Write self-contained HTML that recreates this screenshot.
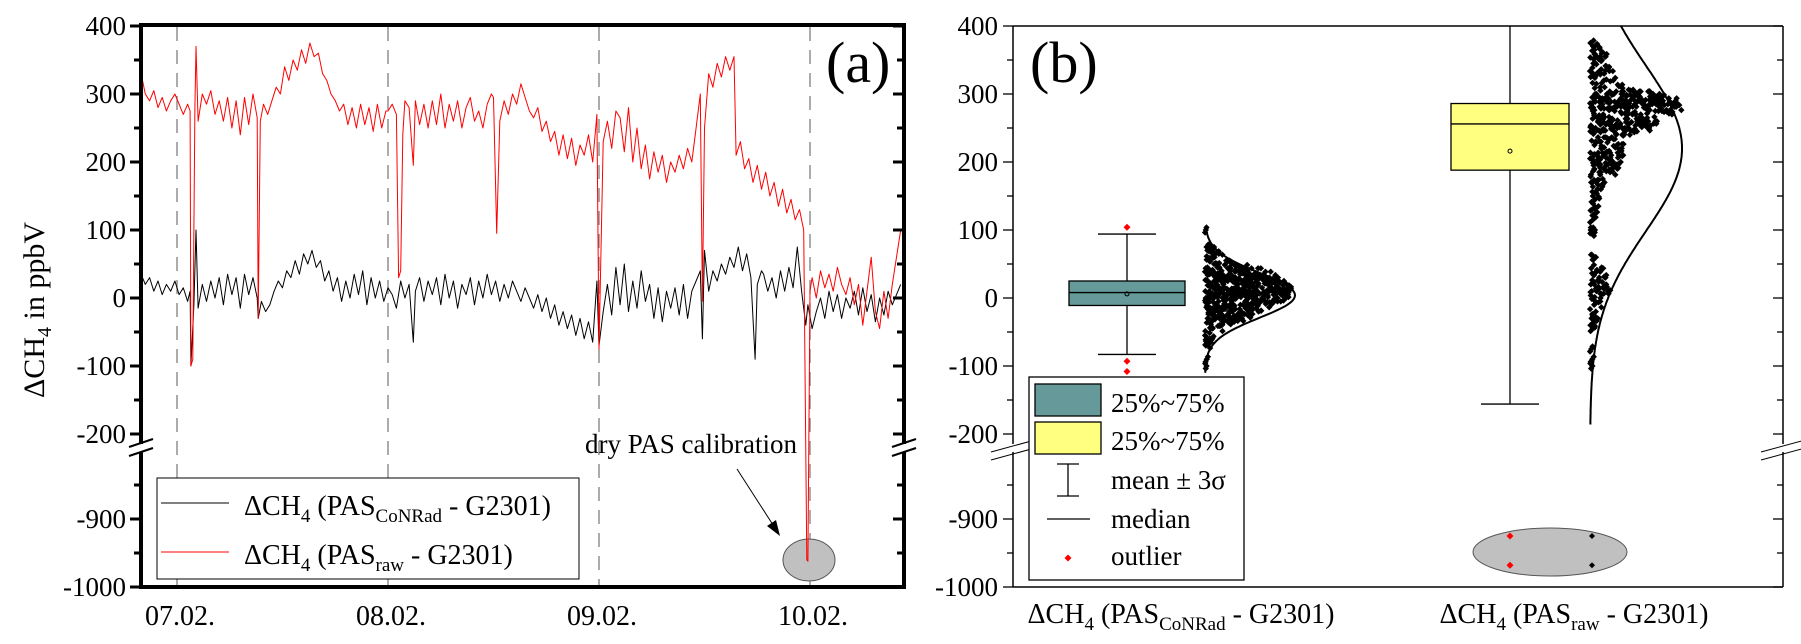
<!DOCTYPE html>
<html><head><meta charset="utf-8"><title>Delta CH4 time series and box plots</title>
<style>
html,body{margin:0;padding:0;background:#fff;}
svg{display:block;font-family:"Liberation Serif","Times New Roman","DejaVu Serif",serif;}
svg text{font-family:"Liberation Serif","Times New Roman","DejaVu Serif",serif;}
</style></head>
<body>
<svg id="chart" width="1801" height="644" viewBox="0 0 1801 644" xmlns="http://www.w3.org/2000/svg" font-family="Liberation Serif, Times New Roman, DejaVu Serif, serif">
<g id="panelA"></g>
<g id="panelB"></g>
</svg>
<script>
// ---------- data (panel a) ----------
const redTimes=[-0.17,-0.15,-0.13,-0.11,-0.09,-0.07,-0.05,-0.03,-0.01,0.01,0.03,0.05,0.062,0.066,0.075,0.085,0.09,0.10,0.12,0.14,0.16,0.18,0.20,0.22,0.24,0.26,0.28,0.30,0.32,0.34,0.36,0.38,0.385,0.395,0.41,0.43,0.45,0.47,0.49,0.51,0.53,0.55,0.57,0.59,0.61,0.63,0.65,0.67,0.69,0.71,0.73,0.75,0.77,0.79,0.81,0.83,0.85,0.87,0.89,0.91,0.93,0.95,0.97,0.99,1.00,1.02,1.04,1.05,1.06,1.07,1.08,1.10,1.12,1.13,1.15,1.17,1.19,1.21,1.23,1.25,1.27,1.29,1.31,1.33,1.35,1.37,1.39,1.41,1.43,1.45,1.47,1.49,1.50,1.515,1.53,1.55,1.57,1.59,1.61,1.63,1.65,1.67,1.69,1.71,1.73,1.75,1.77,1.79,1.81,1.83,1.85,1.87,1.89,1.91,1.93,1.95,1.97,1.99,2.00,2.02,2.04,2.06,2.08,2.10,2.12,2.14,2.16,2.18,2.20,2.22,2.24,2.26,2.28,2.30,2.32,2.34,2.36,2.38,2.40,2.42,2.44,2.46,2.48,2.49,2.50,2.52,2.54,2.56,2.58,2.60,2.62,2.64,2.65,2.67,2.69,2.71,2.73,2.75,2.77,2.79,2.81,2.83,2.85,2.87,2.89,2.91,2.93,2.95,2.97,2.985,2.99,3.00,3.01,3.03,3.05,3.07,3.09,3.11,3.13,3.15,3.17,3.19,3.21,3.23,3.25,3.27,3.29,3.31,3.33,3.35,3.37,3.39,3.41,3.43];
const redValues=[330,300,290,305,280,295,275,290,300,285,270,285,275,-100,-90,280,370,260,300,285,305,270,290,260,295,250,290,240,295,255,300,265,-30,260,285,270,290,310,300,340,320,350,335,365,345,375,355,360,330,320,300,290,275,285,255,280,250,285,255,280,245,285,250,275,275,285,270,30,40,240,290,280,195,290,255,285,250,290,255,300,250,285,260,290,250,280,295,260,275,250,285,300,295,95,260,290,270,300,285,315,295,275,265,280,245,260,230,245,210,240,205,235,195,225,210,240,200,270,-75,230,260,220,275,265,215,280,200,250,190,225,175,215,185,210,170,200,185,210,190,220,200,250,300,-5,250,330,310,345,325,355,335,355,210,230,190,205,170,195,160,185,150,170,135,160,125,145,115,130,100,-960,-962,10,30,0,40,15,35,10,45,20,5,30,-10,20,-40,10,60,-20,-45,10,-30,20,60,100];
const blackTimes=[-0.17,-0.15,-0.13,-0.11,-0.09,-0.07,-0.05,-0.03,-0.01,0.01,0.03,0.05,0.062,0.066,0.08,0.09,0.10,0.12,0.14,0.16,0.18,0.20,0.22,0.24,0.26,0.28,0.30,0.32,0.34,0.36,0.38,0.385,0.40,0.42,0.44,0.46,0.48,0.50,0.52,0.54,0.56,0.58,0.60,0.62,0.64,0.66,0.68,0.70,0.72,0.74,0.76,0.78,0.80,0.82,0.84,0.86,0.88,0.90,0.92,0.94,0.96,0.98,1.00,1.02,1.04,1.06,1.08,1.10,1.12,1.13,1.15,1.17,1.19,1.21,1.23,1.25,1.27,1.29,1.31,1.33,1.35,1.37,1.39,1.41,1.43,1.45,1.47,1.49,1.51,1.53,1.55,1.57,1.59,1.61,1.63,1.65,1.67,1.69,1.71,1.73,1.75,1.77,1.79,1.81,1.83,1.85,1.87,1.89,1.91,1.93,1.95,1.97,1.99,2.00,2.02,2.04,2.06,2.08,2.10,2.12,2.14,2.16,2.18,2.20,2.22,2.24,2.26,2.28,2.30,2.32,2.34,2.36,2.38,2.40,2.42,2.44,2.46,2.48,2.49,2.50,2.52,2.54,2.56,2.58,2.60,2.62,2.64,2.66,2.68,2.70,2.72,2.74,2.75,2.77,2.78,2.80,2.82,2.84,2.86,2.88,2.90,2.92,2.94,2.96,2.98,2.99,3.01,3.03,3.05,3.07,3.09,3.11,3.13,3.15,3.17,3.19,3.21,3.23,3.25,3.27,3.29,3.31,3.33,3.35,3.37,3.39,3.43];
const blackValues=[35,20,30,10,25,5,20,10,25,5,15,-5,10,-100,-10,100,-15,20,-5,25,0,30,-10,35,5,30,-15,35,5,30,0,-30,-5,-20,-10,10,25,15,40,30,55,35,65,50,70,45,55,25,40,10,30,-5,25,0,35,5,40,-10,30,0,25,-5,15,5,-15,25,0,20,-65,10,30,-5,25,5,30,-10,35,0,25,-15,20,5,30,-10,25,0,35,5,25,-5,20,0,25,10,-5,15,0,-15,5,-20,0,-30,-10,-40,-20,-45,-25,-55,-30,-60,-35,-65,25,-70,-20,20,-25,45,-10,50,-20,25,-15,40,-5,20,-30,15,-35,10,-15,15,-25,20,-30,10,25,40,-60,70,10,40,25,50,35,60,45,75,40,65,30,-90,20,40,35,10,30,0,40,10,45,15,75,10,-40,-10,-45,-20,0,-30,10,-20,5,-30,0,-15,10,-25,15,-20,5,-35,0,-25,10,-10,20];
const dayLabels=["07.02.","08.02.","09.02.","10.02."];
const yTicksUpper=[400,300,200,100,0,-100,-200];
const yTicksLower=[-900,-1000];

// ---------- data (panel b) ----------
const boxCats=["conrad","raw"];
const boxQ1=[-11,188];
const boxQ3=[25,286];
const boxMedian=[8,256];
const boxMean=[6,216];
const whiskerLow=[-83,-156];
const whiskerHigh=[94,410];
const outliersConrad=[104,-93,-108];
const curveMean=[4,220];
const curveSd=[33,122];
const lowOutliers=[-925,-968];

const NS="http://www.w3.org/2000/svg";
const FF="Liberation Serif, Times New Roman, DejaVu Serif, serif";
function mk(tag,attrs,parent){const e=document.createElementNS(NS,tag);for(const k in attrs)e.setAttribute(k,attrs[k]);if(tag==='text')e.setAttribute('font-family',FF);if(parent)parent.appendChild(e);return e;}

function yScale(v){
  if(v>=-215) return 298-0.68*v;
  if(v<=-800) return 587-0.68*(v+1000);
  return 444+(-215-v)/585*(451-444);
}
const X0=141,X1=904;
function xScale(t){return 177+211*t;}

const A=document.getElementById('panelA');
const B=document.getElementById('panelB');

// ===== Panel A =====
dayLabels.forEach((d,i)=>{
  const l=mk('line',{x1:xScale(i),x2:xScale(i),y1:27,y2:585,stroke:'#808080','stroke-width':1.3,'stroke-dasharray':'14,9'},A);
  
  
});
const ell=mk('ellipse',{cx:809,cy:560,rx:26,ry:21,fill:'#c0c0c0',stroke:'#555','stroke-width':1},A);


function pathFor(ts,vs){let d='';for(let i=0;i<ts.length;i++){d+=(i?'L':'M')+xScale(ts[i]).toFixed(1)+','+yScale(vs[i]).toFixed(1);}return d;}
const blk=mk('path',{d:pathFor(blackTimes,blackValues),fill:'none',stroke:'#000','stroke-width':1,'stroke-linejoin':'round'},A);


const red=mk('path',{d:pathFor(redTimes,redValues),fill:'none',stroke:'#ff0000','stroke-width':1,'stroke-linejoin':'round'},A);


const fr=mk('rect',{x:X0,y:25,width:X1-X0,height:562,fill:'none',stroke:'#000','stroke-width':4},A);


function tickA(v,major){
  const y=yScale(v);
  mk('line',{x1:X0-(major?11:7),x2:X0,y1:y,y2:y,stroke:'#000','stroke-width':3},A);
  mk('line',{x1:X1-(major?11:7),x2:X1,y1:y,y2:y,stroke:'#000','stroke-width':3},A);
}
for(let v=400;v>=-200;v-=50) tickA(v,v%100===0);
[-850,-900,-950,-1000].forEach(v=>tickA(v,v%100===0));
yTicksUpper.concat(yTicksLower).forEach(v=>{
  const t=mk('text',{x:126,y:yScale(v)+9,'font-size':27,'text-anchor':'end'},A);
  t.textContent=v;
  
  
});
dayLabels.forEach((d,i)=>{
  const t=mk('text',{x:xScale(i)+3,y:625,'font-size':28,'text-anchor':'middle'},A);
  t.textContent=d;
  
  
});
function brk(x,g){
  mk('rect',{x:x-6,y:444,width:12,height:8,fill:'#fff'},g);
  mk('line',{x1:x-12,x2:x+12,y1:447,y2:439,stroke:'#000','stroke-width':2},g);
  mk('line',{x1:x-12,x2:x+12,y1:456,y2:448,stroke:'#000','stroke-width':2},g);
}
brk(X0,A);brk(X1,A);
const yt=mk('text',{x:0,y:0,'font-size':30,'text-anchor':'middle',transform:'translate(44,310) rotate(-90)'},A);
yt.innerHTML='ΔCH<tspan font-size="20" dy="7">4</tspan><tspan dy="-7"> in ppbV</tspan>';


const la=mk('text',{x:826,y:82,'font-size':58},A);la.textContent='(a)';


const an=mk('text',{x:797,y:453,'font-size':27,'text-anchor':'end'},A);an.textContent='dry PAS calibration';


mk('line',{x1:737,y1:469,x2:775,y2:528,stroke:'#000','stroke-width':1},A);
mk('polygon',{points:'780,536 767,526 776,520',fill:'#000'},A);
const lg=mk('g',{},A);


mk('rect',{x:157,y:478,width:422,height:101,fill:'#fff',stroke:'#000','stroke-width':1},lg);
mk('line',{x1:161,x2:229,y1:503,y2:503,stroke:'#000','stroke-width':1},lg);
mk('line',{x1:161,x2:229,y1:552,y2:552,stroke:'#ff0000','stroke-width':1},lg);
const l1=mk('text',{x:244,y:515,'font-size':28},lg);
l1.innerHTML='ΔCH<tspan font-size="19" dy="7">4</tspan><tspan dy="-7"> (PAS</tspan><tspan font-size="19" dy="7">CoNRad</tspan><tspan dy="-7"> - G2301)</tspan>';


const l2=mk('text',{x:244,y:564,'font-size':28},lg);
l2.innerHTML='ΔCH<tspan font-size="19" dy="7">4</tspan><tspan dy="-7"> (PAS</tspan><tspan font-size="19" dy="7">raw</tspan><tspan dy="-7"> - G2301)</tspan>';



// ===== Panel B =====
const BX0=1013,BX1=1783;
const boxCenter=[1127,1510];
const boxHalf=[58,59];
const capHalf=[29,29];
const scatterBase=[1205,1590];
const curveAmp=[90,92];
const scatterMax=[88,92];

const e2=mk('ellipse',{cx:1550,cy:552,rx:77,ry:24,fill:'#c0c0c0',stroke:'#555','stroke-width':1},B);


function diamond(x,y,s,c,g){return mk('polygon',{points:`${x},${y-s} ${x+s},${y} ${x},${y+s} ${x-s},${y}`,fill:c},g);}
lowOutliers.forEach(v=>{
  const d1=diamond(boxCenter[1],yScale(v),3.5,'#ff0000',B);
  
  
  const d2=diamond(scatterBase[1]+2,yScale(v),3,'#000',B);
  
  
});

mk('line',{x1:BX0,x2:BX1,y1:26,y2:26,stroke:'#000','stroke-width':1.5},B);
mk('line',{x1:BX0,x2:BX1,y1:587,y2:587,stroke:'#000','stroke-width':1.5},B);
mk('line',{x1:BX0,x2:BX0,y1:26,y2:587,stroke:'#000','stroke-width':1.5},B);
mk('line',{x1:BX1,x2:BX1,y1:26,y2:587,stroke:'#000','stroke-width':1.5},B);
function tickB(v,major){
  const y=yScale(v);
  mk('line',{x1:BX0-(major?10:6),x2:BX0,y1:y,y2:y,stroke:'#000','stroke-width':1.3},B);
  mk('line',{x1:BX1-(major?10:6),x2:BX1,y1:y,y2:y,stroke:'#000','stroke-width':1.3},B);
}
for(let v=400;v>=-200;v-=50) tickB(v,v%100===0);
[-850,-900,-950,-1000].forEach(v=>tickB(v,v%100===0));
yTicksUpper.concat(yTicksLower).forEach(v=>{
  const t=mk('text',{x:998,y:yScale(v)+9,'font-size':27,'text-anchor':'end'},B);
  t.textContent=v;
  
  
});
function brkB(x){
  mk('rect',{x:x-4,y:444,width:8,height:8,fill:'#fff'},B);
  mk('line',{x1:x-22,x2:x+22,y1:452,y2:440,stroke:'#000','stroke-width':1},B);
  mk('line',{x1:x-22,x2:x+22,y1:460,y2:448,stroke:'#000','stroke-width':1},B);
}
brkB(BX0);brkB(BX1);
const lb=mk('text',{x:1030,y:82,'font-size':58},B);lb.textContent='(b)';



const boxFill=['#669999','#ffff80'];
boxCats.forEach((c,i)=>{
  const g=mk('g',{},B);
  
  
  const cx=boxCenter[i];
  const yTop=Math.max(26,yScale(whiskerHigh[i]));
  mk('line',{x1:cx,x2:cx,y1:yTop,y2:yScale(whiskerLow[i]),stroke:'#000','stroke-width':1.3},g);
  if(whiskerHigh[i]<400) mk('line',{x1:cx-capHalf[i],x2:cx+capHalf[i],y1:yScale(whiskerHigh[i]),y2:yScale(whiskerHigh[i]),stroke:'#000','stroke-width':1.3},g);
  mk('line',{x1:cx-capHalf[i],x2:cx+capHalf[i],y1:yScale(whiskerLow[i]),y2:yScale(whiskerLow[i]),stroke:'#000','stroke-width':1.3},g);
  mk('rect',{x:cx-boxHalf[i],y:yScale(boxQ3[i]),width:2*boxHalf[i],height:yScale(boxQ1[i])-yScale(boxQ3[i]),fill:boxFill[i],stroke:'#000','stroke-width':1.3},g);
  mk('line',{x1:cx-boxHalf[i],x2:cx+boxHalf[i],y1:yScale(boxMedian[i]),y2:yScale(boxMedian[i]),stroke:'#000','stroke-width':1.3},g);
  mk('circle',{cx:cx,cy:yScale(boxMean[i]),r:2,fill:'none',stroke:'#000','stroke-width':1},g);
});
outliersConrad.forEach(v=>{
  const d=diamond(boxCenter[0],yScale(v),3.5,'#ff0000',B);
  
  
});

const seriesVals=[blackValues,redValues.filter(v=>v>-215)];
seriesVals.forEach((vals,k)=>{
  const kde=v=>{let s=0;vals.forEach(u=>{const z=(v-u)/14;s+=Math.exp(-z*z/2);});return s;};
  let mx=0;vals.forEach(v=>{mx=Math.max(mx,kde(v));});
  const g=mk('g',{},B);
  
  
  vals.forEach((v,i)=>{
    const w=kde(v)/mx*scatterMax[k];
    for(let r=0;r<3;r++){
      const f=((i*3+r)*0.6180339)%1;
      const d=diamond(scatterBase[k]+f*w,yScale(v)+(r-1)*2.5,3.2,'#000',g);
      
      
    }
  });
  let d='';
  const vTop=k===0?104:400, vBot=k===0?-110:-187;
  for(let v=vTop;v>=vBot;v-=2){
    const z=(v-curveMean[k])/curveSd[k];
    const x=scatterBase[k]+curveAmp[k]*Math.exp(-z*z/2);
    d+=(v===vTop?'M':'L')+x.toFixed(1)+','+yScale(v).toFixed(1);
  }
  const cv=mk('path',{d:d,fill:'none',stroke:'#000','stroke-width':2},B);
  
  
});

const xl1=mk('text',{x:1181,y:623,'font-size':28,'text-anchor':'middle'},B);
xl1.innerHTML='ΔCH<tspan font-size="19" dy="7">4</tspan><tspan dy="-7"> (PAS</tspan><tspan font-size="19" dy="7">CoNRad</tspan><tspan dy="-7"> - G2301)</tspan>';


const xl2=mk('text',{x:1574,y:623,'font-size':28,'text-anchor':'middle'},B);
xl2.innerHTML='ΔCH<tspan font-size="19" dy="7">4</tspan><tspan dy="-7"> (PAS</tspan><tspan font-size="19" dy="7">raw</tspan><tspan dy="-7"> - G2301)</tspan>';



const lgb=mk('g',{},B);


mk('rect',{x:1029,y:377,width:215,height:203,fill:'#fff',stroke:'#000','stroke-width':1.3},lgb);
mk('rect',{x:1035,y:384,width:66,height:32,fill:'#669999',stroke:'#000','stroke-width':1.3},lgb);
mk('rect',{x:1035,y:422,width:66,height:32,fill:'#ffff80',stroke:'#000','stroke-width':1.3},lgb);
mk('line',{x1:1068,x2:1068,y1:464,y2:496,stroke:'#000','stroke-width':1.3},lgb);
mk('line',{x1:1057,x2:1079,y1:464,y2:464,stroke:'#000','stroke-width':1.3},lgb);
mk('line',{x1:1057,x2:1079,y1:496,y2:496,stroke:'#000','stroke-width':1.3},lgb);
mk('line',{x1:1047,x2:1090,y1:519,y2:519,stroke:'#000','stroke-width':1.3},lgb);
diamond(1068,558,3.5,'#ff0000',lgb);
[['25%~75%',412],['25%~75%',450],['mean ± 3σ',489],['median',528],['outlier',565]].forEach(([s,y])=>{
  const t=mk('text',{x:1111,y:y,'font-size':27},lgb);
  t.textContent=s;
  
  
});
</script>
</body></html>
